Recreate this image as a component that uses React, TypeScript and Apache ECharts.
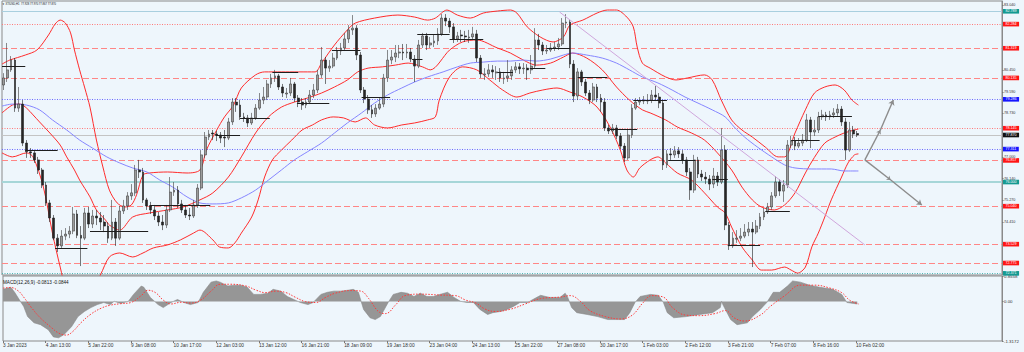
import React, { useEffect, useRef } from 'react';
import * as echarts from 'echarts';

// ---------- data ----------
const tickLabels = ['3 Jan 2023', '4 Jan 13:00', '5 Jan 22:00', '9 Jan 08:00', '10 Jan 17:00', '12 Jan 03:00', '13 Jan 12:00', '16 Jan 21:00', '18 Jan 09:00', '19 Jan 18:00', '23 Jan 04:00', '24 Jan 13:00', '25 Jan 22:00', '27 Jan 08:00', '30 Jan 17:00', '1 Feb 03:00', '2 Feb 12:00', '3 Feb 21:00', '7 Feb 07:00', '8 Feb 16:00', '10 Feb 02:00'];
const barsPerTick = 33;
const barsPerCandle = 3;
const totalBars = 773;

// [open, close, low, high] – one candle per 3 hourly bars
const candles = [
  [79.86,80.14,79.66,80.33],[80.14,80.46,79.98,81.53],[80.46,80.85,80.38,81.01],[80.85,78.94,78.79,80.93],[78.94,79.10,78.79,79.78],
  [79.10,77.55,77.43,79.26],[77.55,77.20,76.96,77.67],[77.20,77.16,76.96,77.35],[77.16,76.88,76.76,77.27],[76.88,76.48,76.32,77.00],
  [76.48,75.88,75.76,76.56],[75.88,75.17,75.05,76.00],[75.17,74.57,74.41,75.29],[74.57,73.77,73.69,74.69],[73.77,73.46,73.22,73.93],
  [73.46,73.85,73.38,74.09],[73.85,73.93,73.69,74.17],[73.93,74.05,73.77,74.25],[74.05,74.73,73.93,75.01],[74.73,73.88,73.77,74.89],
  [73.88,73.77,72.66,74.25],[73.77,74.77,73.69,74.97],[74.77,74.33,74.17,75.01],[74.33,74.65,74.17,74.89],[74.65,74.57,74.29,74.89],
  [74.57,74.41,74.09,74.81],[74.41,74.25,74.01,74.69],[74.25,73.77,73.58,74.41],[73.77,74.41,73.69,75.29],[74.41,73.77,73.46,74.57],
  [73.77,74.85,73.69,75.05],[74.85,75.05,74.73,75.29],[75.05,75.45,74.89,75.60],[75.45,75.57,75.29,75.92],[75.57,76.48,75.45,76.68],
  [76.48,76.40,76.16,76.88],[76.40,75.29,75.17,76.56],[75.29,75.05,74.89,75.37],[75.05,74.89,74.73,75.21],[74.89,74.65,74.49,75.09],
  [74.65,74.41,74.25,74.81],[74.41,74.29,74.09,74.69],[74.29,74.89,74.17,75.09],[74.89,75.60,74.81,76.20],[75.60,75.68,75.45,76.00],
  [75.68,75.13,74.97,75.84],[75.13,74.89,74.77,75.29],[74.89,74.69,74.57,75.09],[74.69,74.65,74.49,74.97],[74.65,75.09,74.57,75.29],
  [75.09,75.76,74.97,75.92],[75.76,77.08,75.68,77.27],[77.08,77.79,76.96,77.99],[77.79,77.91,77.67,78.07],[77.95,77.91,77.67,78.07],
  [77.91,77.87,77.63,78.03],[77.87,77.75,77.55,77.99],[77.79,77.75,77.39,78.07],[77.75,78.39,77.67,78.55],[78.39,79.18,78.27,79.34],
  [79.18,79.06,78.79,79.34],[79.06,78.59,78.47,79.26],[78.59,78.55,78.39,78.75],[78.55,78.35,78.19,78.67],[78.35,78.55,78.27,78.75],
  [78.55,78.94,78.47,79.10],[78.94,79.26,78.87,79.54],[79.26,79.38,79.10,79.78],[79.38,79.90,79.26,80.06],[79.90,80.14,79.74,80.30],
  [80.14,80.22,79.98,80.46],[80.22,79.78,79.66,80.30],[79.78,79.54,79.38,79.90],[79.50,79.54,79.34,79.74],[79.54,79.90,79.42,80.14],
  [79.90,79.34,79.18,79.98],[79.34,79.18,78.98,79.46],[79.18,79.06,78.87,79.34],[79.06,79.18,78.94,79.34],[79.18,79.46,79.10,79.66],
  [79.46,79.66,79.34,79.90],[79.66,80.26,79.54,80.46],[80.26,80.85,80.14,81.37],[80.85,80.53,79.90,80.97],[80.53,80.61,80.38,80.85],
  [80.61,80.93,80.53,81.13],[80.93,81.21,80.85,81.37],[81.21,81.33,81.05,81.53],[81.33,81.69,81.21,81.93],[81.69,82.05,81.53,82.24],
  [82.05,82.12,81.85,82.64],[82.12,81.05,80.85,82.24],[81.05,79.66,79.54,81.17],[79.66,79.30,79.14,79.78],[79.30,78.87,78.71,79.46],
  [78.87,78.71,78.55,79.06],[78.71,78.94,78.59,79.10],[78.94,79.10,78.87,79.34],[79.10,80.14,78.98,80.30],[80.14,80.85,79.98,81.25],
  [80.85,80.97,80.69,81.25],[80.97,81.13,80.77,81.45],[81.13,81.17,80.93,81.45],[81.17,81.13,80.85,81.49],[81.13,81.17,80.93,81.49],
  [81.17,80.89,80.77,81.33],[80.89,80.61,79.98,81.05],[80.61,81.45,80.53,81.65],[81.45,81.81,81.33,81.93],[81.81,81.45,81.25,81.93],
  [81.45,81.53,81.33,81.77],[81.53,81.61,81.37,81.85],[81.61,81.89,81.45,82.12],[81.89,82.52,81.81,82.68],[82.52,82.40,82.20,82.68],
  [82.40,82.17,81.93,82.52],[82.17,81.69,81.53,82.32],[81.69,81.81,81.57,81.97],[81.85,81.81,81.57,82.05],[81.81,81.77,81.57,82.01],
  [81.73,81.77,81.53,82.05],[81.77,81.89,81.65,82.17],[81.89,80.93,80.77,82.05],[80.93,80.30,80.14,81.05],[80.26,80.30,80.06,80.53],
  [80.30,80.46,80.18,80.69],[80.46,80.38,80.14,80.65],[80.34,80.38,80.06,80.61],[80.38,80.14,79.98,80.53],[80.10,80.14,79.90,80.38],
  [80.14,80.22,79.98,80.85],[80.22,80.46,80.06,80.61],[80.46,80.58,80.34,80.77],[80.58,80.50,80.30,80.73],[80.50,80.53,80.30,80.73],
  [80.53,80.46,80.06,80.69],[80.46,80.61,80.30,81.05],[80.61,81.65,80.53,82.12],[81.65,81.45,81.25,81.89],[81.45,81.21,81.05,81.57],
  [81.21,81.25,81.09,81.45],[81.25,81.33,81.17,81.53],[81.33,81.37,81.21,81.57],[81.37,81.49,81.25,81.73],[81.49,82.32,81.41,82.52],
  [82.32,82.36,82.12,82.68],[82.36,80.69,80.53,82.44],[80.69,79.42,79.18,80.85],[79.42,80.38,79.26,80.53],[80.38,79.98,79.82,80.46],
  [79.98,79.54,79.42,80.10],[79.54,79.26,79.10,79.66],[79.26,79.78,79.18,79.94],[79.78,79.34,79.18,79.90],[79.34,79.18,78.79,79.50],
  [79.18,78.15,78.03,79.34],[78.15,78.03,77.91,78.27],[78.03,78.15,77.91,78.31],[78.15,77.83,77.71,78.27],[77.83,77.43,77.31,77.95],
  [77.43,76.96,76.80,77.55],[76.96,77.87,76.88,78.07],[77.87,78.94,77.75,79.10],[78.94,79.18,78.87,79.34],[79.18,79.22,79.06,79.38],
  [79.22,79.26,79.10,79.42],[79.22,79.26,79.10,79.50],[79.26,79.46,79.14,79.66],[79.46,79.38,79.22,79.82],[79.38,79.14,78.94,79.54],
  [79.14,76.68,76.48,79.26],[76.68,77.12,76.56,77.27],[77.12,77.08,76.88,77.35],[77.08,77.24,76.96,77.43],[77.24,77.12,76.96,77.39],
  [77.12,76.88,76.72,77.27],[76.88,76.40,76.24,77.00],[76.40,75.68,75.29,76.56],[75.68,76.88,75.57,77.08],[76.88,76.32,76.16,77.00],
  [76.32,76.20,76.04,76.48],[76.20,76.12,75.92,76.40],[76.12,75.92,75.68,76.28],[75.92,76.24,75.76,76.56],[76.24,76.00,75.84,76.40],
  [76.00,77.27,75.92,78.15],[77.27,74.29,74.09,77.47],[74.29,73.46,73.30,74.41],[73.46,73.77,73.38,74.01],[73.73,73.77,73.58,74.09],
  [73.77,73.85,73.65,74.17],[73.85,74.01,73.77,74.33],[74.01,74.13,73.85,74.41],[74.13,74.01,72.62,74.41],[74.01,74.25,73.93,74.49],
  [74.25,74.61,74.13,74.77],[74.61,74.81,74.49,74.97],[74.81,75.01,74.73,75.17],[75.01,75.45,74.89,75.60],[75.45,76.00,75.37,76.24],
  [76.00,75.64,75.45,76.12],[75.64,75.88,75.21,76.08],[75.88,77.47,75.76,77.67],[77.47,77.63,77.35,77.83],[77.63,77.43,77.27,77.79],
  [77.43,77.55,77.35,77.75],[77.55,77.67,77.43,77.91],[77.67,78.47,77.59,78.71],[78.47,77.99,77.35,78.59],[77.99,78.07,77.83,78.47],
  [78.07,78.59,77.95,78.79],[78.59,78.67,78.47,78.87],[78.67,78.59,78.43,78.79],[78.59,78.67,78.47,78.83],[78.67,78.75,78.55,78.94],
  [78.75,78.90,78.63,79.10],[78.90,78.39,78.23,79.02],[78.39,77.27,76.88,78.55],[77.27,78.07,77.20,78.39],[78.07,77.91,77.75,78.23],
  [77.93,77.87,77.79,78.03],
];

// [bar, value]
const upperBand = [[0,80.69],[6,80.85],[18,81.05],[27,81.25],[36,81.85],[41,82.28],[45,82.44],[49,82.32],[53,81.93],[56,81.25],[60,80.46],[64,79.74],[68,78.98],[73,77.67],[78,76.60],[83,75.68],[89,75.17],[95,75.01],[100,75.09],[104,75.49],[109,76.28],[114,76.36],[128,76.40],[143,76.36],[153,76.48],[158,77.27],[166,78.07],[172,78.59],[179,79.06],[185,79.74],[196,80.26],[203,80.38],[216,80.38],[242,80.38],[247,80.73],[257,81.45],[267,82.05],[273,82.32],[288,82.52],[306,82.64],[319,82.56],[329,82.44],[335,82.52],[344,82.84],[352,82.64],[362,82.52],[372,82.72],[383,82.80],[393,82.84],[398,82.72],[406,82.17],[416,81.77],[426,81.57],[434,81.77],[439,82.24],[449,82.44],[460,82.72],[468,82.84],[475,82.84],[483,82.56],[488,82.17],[491,81.37],[495,80.73],[501,80.53],[513,80.18],[521,80.06],[530,80.14],[543,80.26],[549,80.06],[556,79.26],[564,78.47],[572,78.07],[580,77.79],[590,77.39],[600,77.00],[605,77.00],[613,77.95],[621,78.87],[628,79.54],[636,79.78],[644,79.86],[651,79.66],[657,79.26],[662,79.06]];
const middleBand = [[0,78.75],[8,79.06],[14,79.10],[19,78.94],[24,78.67],[29,78.39],[37,77.95],[45,77.47],[50,77.00],[56,76.48],[60,76.08],[68,75.41],[73,74.89],[80,74.49],[83,74.29],[91,74.09],[101,74.61],[114,74.77],[128,74.89],[140,75.01],[153,75.29],[163,75.57],[175,76.20],[185,77.00],[196,77.95],[206,78.59],[216,78.98],[226,79.18],[236,79.34],[247,79.54],[257,79.78],[267,80.06],[275,80.38],[283,80.53],[294,80.58],[304,80.65],[314,80.73],[325,80.58],[331,80.46],[346,81.25],[356,81.57],[367,81.65],[383,81.33],[393,81.13],[403,80.85],[413,80.65],[424,80.73],[434,80.97],[441,81.13],[452,80.93],[464,80.46],[475,79.78],[485,79.26],[495,78.87],[501,78.75],[513,78.47],[522,78.19],[533,77.95],[543,77.67],[553,77.16],[564,76.48],[572,75.80],[580,75.29],[587,75.01],[597,74.89],[605,75.09],[613,75.57],[621,76.36],[628,76.98],[636,77.55],[644,77.79],[651,77.95],[662,78.11]];
const lowerBand = [[0,77.16],[8,77.00],[19,77.16],[24,77.00],[32,75.80],[39,73.97],[45,72.62],[50,71.71],[59,71.31],[68,71.63],[76,72.30],[83,73.02],[91,73.18],[101,73.02],[109,73.18],[117,73.38],[128,73.50],[138,73.70],[148,73.97],[153,74.09],[163,73.70],[168,73.42],[175,73.38],[180,73.58],[185,73.97],[193,74.61],[198,75.29],[203,76.20],[209,76.88],[216,77.27],[224,77.67],[232,78.07],[240,78.27],[247,78.47],[256,78.59],[264,78.55],[273,78.39],[281,78.55],[288,78.27],[298,78.15],[309,78.27],[319,78.35],[329,78.47],[335,78.59],[338,79.26],[346,80.18],[356,80.58],[367,80.46],[377,80.06],[387,79.66],[398,79.38],[408,79.54],[418,79.66],[429,79.74],[439,79.58],[449,79.38],[460,78.98],[470,78.19],[478,77.27],[483,76.48],[488,76.20],[493,76.56],[501,76.88],[507,77.00],[513,76.76],[522,76.36],[533,76.08],[543,75.57],[553,75.01],[559,74.77],[564,74.21],[572,73.42],[580,72.90],[587,72.50],[595,72.50],[605,72.62],[610,72.50],[615,72.38],[621,72.62],[626,73.42],[631,73.97],[636,74.61],[641,75.29],[649,76.20],[654,76.76],[659,77.08],[662,77.12]];
const maLine = [[0,79.02],[8,79.10],[19,79.06],[29,78.87],[39,78.47],[50,78.07],[60,77.67],[70,77.35],[81,77.00],[91,76.76],[101,76.56],[112,76.40],[122,76.08],[132,75.80],[143,75.41],[153,75.17],[163,75.13],[175,75.17],[185,75.37],[196,75.68],[206,76.08],[216,76.48],[226,76.88],[236,77.20],[247,77.55],[257,77.95],[267,78.35],[278,78.75],[288,79.14],[298,79.46],[309,79.74],[319,79.98],[329,80.18],[341,80.38],[352,80.58],[362,80.73],[372,80.77],[383,80.81],[393,80.81],[403,80.85],[413,80.81],[424,80.89],[434,81.05],[441,81.13],[452,81.05],[464,80.93],[475,80.73],[485,80.46],[495,80.18],[507,79.94],[518,79.66],[528,79.38],[538,79.14],[549,78.87],[559,78.59],[566,78.19],[574,77.79],[584,77.39],[595,77.00],[605,76.68],[613,76.56],[626,76.52],[641,76.52],[651,76.44],[662,76.44]];

const macdHist = [[0,0.41],[6,0.48],[9,0.31],[14,-0.03],[16,-0.16],[19,-0.50],[24,-0.71],[29,-0.77],[35,-0.94],[39,-1.18],[43,-1.21],[47,-1.11],[53,-0.84],[58,-0.50],[63,-0.33],[68,-0.20],[73,-0.10],[78,-0.03],[83,-0.10],[86,0.01],[91,-0.06],[97,0.01],[101,0.24],[107,0.52],[109,0.48],[114,0.14],[120,-0.10],[124,-0.20],[130,-0.03],[135,0.07],[140,-0.03],[145,-0.10],[151,-0.03],[155,0.31],[161,0.65],[165,0.69],[168,0.65],[174,0.52],[179,0.55],[184,0.55],[189,0.48],[194,0.24],[199,0.24],[205,0.28],[209,0.41],[215,0.35],[220,0.17],[225,0.07],[230,-0.03],[236,-0.10],[240,-0.03],[246,0.24],[251,0.31],[256,0.35],[261,0.35],[267,0.38],[271,0.41],[275,0.31],[279,-0.26],[284,-0.54],[288,-0.60],[292,-0.50],[298,-0.03],[302,0.24],[308,0.31],[313,0.28],[318,0.17],[323,0.28],[328,0.17],[333,0.17],[338,0.24],[344,0.31],[349,0.14],[354,0.01],[359,-0.03],[364,-0.03],[369,-0.26],[375,-0.43],[379,-0.37],[385,-0.33],[390,-0.26],[395,-0.16],[400,-0.03],[406,-0.03],[410,0.07],[416,0.21],[423,0.14],[431,0.14],[435,0.28],[437,0.14],[440,-0.20],[444,-0.37],[452,-0.43],[460,-0.50],[468,-0.60],[475,-0.60],[481,-0.60],[485,-0.37],[489,-0.03],[493,0.17],[501,0.24],[507,0.21],[511,-0.03],[514,-0.37],[519,-0.54],[529,-0.50],[539,-0.43],[549,-0.37],[555,-0.20],[556,0.01],[557,-0.10],[563,-0.60],[568,-0.77],[576,-0.71],[580,-0.50],[586,-0.26],[591,-0.03],[596,0.31],[601,0.31],[607,0.52],[611,0.69],[617,0.65],[624,0.55],[632,0.48],[642,0.41],[649,0.24],[653,-0.03],[658,-0.06],[661,-0.08]];
const macdSignal = [[0,0.45],[6,0.47],[12,0.35],[16,0.15],[22,-0.2],[29,-0.55],[37,-0.85],[43,-1.05],[49,-1.12],[54,-1.0],[60,-0.72],[68,-0.42],[76,-0.22],[83,-0.12],[91,-0.07],[99,-0.03],[107,0.2],[112,0.38],[118,0.3],[124,0.05],[130,-0.08],[138,-0.02],[145,-0.05],[153,0.05],[161,0.35],[168,0.58],[176,0.58],[188,0.52],[196,0.38],[203,0.3],[211,0.35],[219,0.3],[226,0.15],[234,0.0],[242,-0.03],[250,0.15],[257,0.28],[269,0.37],[277,0.35],[283,0.1],[291,-0.35],[296,-0.4],[304,-0.1],[311,0.2],[323,0.25],[338,0.22],[350,0.2],[358,0.05],[366,-0.05],[373,-0.25],[381,-0.33],[393,-0.25],[404,-0.08],[416,0.1],[431,0.15],[439,0.2],[447,0.0],[454,-0.3],[466,-0.5],[478,-0.58],[487,-0.45],[495,-0.05],[502,0.2],[511,0.15],[518,-0.2],[528,-0.45],[539,-0.47],[551,-0.4],[559,-0.3],[566,-0.55],[574,-0.65],[586,-0.45],[594,-0.15],[605,0.2],[617,0.55],[628,0.55],[640,0.45],[649,0.3],[655,0.05],[662,-0.08]];

const levelValues = [82.789, 82.284, 81.319, 80.135, 79.286, 78.145, 77.870, 77.311, 76.857, 76.000, 75.040, 73.529, 72.775, 72.371];
const levelKinds = ['teal', 'redDot', 'redDash', 'redDash', 'blueDot', 'redDot', 'price', 'blueDot', 'redDash', 'tealThick', 'redDash', 'redDash', 'redDash', 'tealDot'];
const priceTicks = [83.04, 80.45, 79.59, 78.73, 77.0, 76.14, 75.27, 74.41];
const macdTicks = [0.8558, 0, -1.3172];

// [startBar, endBar, price]
const pivotSegments = [[0,18,80.61],[18,43,77.27],[41,66,73.38],[68,113,74.05],[114,161,75.09],[165,184,77.87],[184,207,78.55],[209,229,80.38],[228,253,79.14],[255,277,81.25],[278,300,79.38],[317,325,80.89],[321,346,81.89],[346,372,81.69],[383,395,80.38],[408,420,80.53],[421,439,81.33],[445,468,80.18],[470,491,78.11],[488,514,79.26],[515,536,76.88],[549,561,76.12],[561,586,73.50],[590,609,74.85],[610,632,77.67],[631,657,78.63]];
const trendLine = [[431, 82.76], [667, 73.5]];
const arrowStart = [667, 76.88];
const arrowMids = [[679, 78.07], [687, 76.08]];
const arrowEnds = [[689, 79.26], [711, 75.09]];

const headerText = '▼ XTIUSD,H1  77.928 77.970 77.867 77.870';
const macdTitle = 'MACD(12,26,9) -0.0813 -0.0844';

// ---------- styling ----------
const FONT = '"Liberation Sans", Arial, "DejaVu Sans", sans-serif';
const BG = '#eef6fc';

const kindStyle: any = {
  teal: { line: { color: '#a9cfdf', width: 1, type: 'solid' }, badge: '#149a92' },
  redDot: { line: { color: '#ff7a7a', width: 1, type: [1, 1.5] }, badge: '#ff1515' },
  redDash: { line: { color: '#ff8686', width: 1, type: [6, 3] }, badge: '#ff1515' },
  blueDot: { line: { color: '#6a6aff', width: 1, type: [1, 1.5] }, badge: '#1515ff' },
  price: { line: { color: '#c4c4c4', width: 1, type: 'solid' }, badge: '#111111' },
  tealThick: { line: { color: '#a6d6d8', width: 2, type: 'solid' }, badge: '#149a92' },
  tealDot: { line: { color: '#4fb4b4', width: 1, type: [1, 1.5] }, badge: '#149a92' },
};

export default function App() {
  const ref = useRef<HTMLDivElement>(null);

  useEffect(() => {
    const chart = echarts.init(ref.current as HTMLDivElement, null, { renderer: 'svg' });

    const bandLine = (data: number[][], color: string) => ({
      type: 'line', xAxisIndex: 0, yAxisIndex: 0, data, symbol: 'none', showSymbol: false,
      smooth: 0.3, clip: true, silent: true, z: 3,
      lineStyle: { color, width: 1 },
    });

    const levelLines = levelValues.map((v, i) => {
      const s = kindStyle[levelKinds[i]];
      return {
        yAxis: v,
        lineStyle: s.line,
        label: {
          show: true, position: 'end', distance: 1, formatter: v.toFixed(3),
          backgroundColor: s.badge, color: '#ffffff', fontSize: 3.7, fontFamily: FONT,
          padding: [0.4, 2.4, 0.2, 2.4], lineHeight: 4,
        },
      };
    });

    const annotationLines: any[] = [];
    pivotSegments.forEach(([a, b, v]) => {
      annotationLines.push([
        { coord: [a, v], symbol: 'none', lineStyle: { color: '#1e1e1e', width: 1, type: 'solid' } },
        { coord: [b, v], symbol: 'none' },
      ]);
    });
    annotationLines.push([
      { coord: trendLine[0], symbol: 'none', lineStyle: { color: '#cfa6dc', width: 1, type: 'solid' } },
      { coord: trendLine[1], symbol: 'none' },
    ]);
    arrowEnds.forEach((end, i) => {
      const st = { color: '#8c8c8c', width: 1.4, type: 'solid' };
      annotationLines.push([
        { coord: arrowStart, symbol: 'none', lineStyle: st },
        { coord: arrowMids[i], symbol: 'arrow', symbolSize: 4 },
      ]);
      annotationLines.push([
        { coord: arrowMids[i], symbol: 'none', lineStyle: st },
        { coord: end, symbol: 'arrow', symbolSize: 5 },
      ]);
    });

    const tickBars = tickLabels.map((_, i) => i * barsPerTick);

    const option: any = {
      animation: false,
      backgroundColor: BG,
      textStyle: { fontFamily: FONT },
      grid: [
        { left: 2, top: 1, width: 1000, height: 274, show: true, backgroundColor: BG, borderColor: '#8a8a8a', borderWidth: 1 },
        { left: 2, top: 276, width: 1000, height: 65, show: true, backgroundColor: BG, borderColor: '#8a8a8a', borderWidth: 1 },
      ],
      xAxis: [
        {
          type: 'value', gridIndex: 0, min: 0, max: totalBars,
          axisLine: { show: false, onZero: false }, axisTick: { show: false }, axisLabel: { show: false }, splitLine: { show: false },
        },
        {
          type: 'value', gridIndex: 1, min: 0, max: totalBars, interval: barsPerTick, position: 'bottom',
          axisLine: { show: false, onZero: false }, splitLine: { show: false },
          axisTick: { show: true, length: 2, customValues: tickBars, lineStyle: { color: '#777' } },
          axisLabel: {
            show: true, fontSize: 4.8, color: '#333', fontFamily: FONT, align: 'left', margin: 2,
            showMaxLabel: false, hideOverlap: false,
            formatter: (val: number) => {
              const i = Math.round(val / barsPerTick);
              return Math.abs(val - i * barsPerTick) < 0.01 && i < tickLabels.length ? tickLabels[i] : '';
            },
          },
        },
      ],
      yAxis: [
        {
          type: 'value', gridIndex: 0, position: 'right', min: 72.304, max: 83.199,
          axisLine: { show: true, onZero: false, lineStyle: { color: '#8a8a8a' } },
          splitLine: { show: false },
          axisTick: { show: true, length: 1.5, customValues: priceTicks, lineStyle: { color: '#777' } },
          axisLabel: {
            show: true, customValues: priceTicks, fontSize: 3.7, color: '#333', fontFamily: FONT, margin: 2,
            formatter: (v: number) => v.toFixed(3),
          },
        },
        {
          type: 'value', gridIndex: 1, position: 'right', min: -1.3172, max: 0.8558,
          axisLine: { show: true, onZero: false, lineStyle: { color: '#8a8a8a' } },
          splitLine: { show: false },
          axisTick: { show: true, length: 1.5, customValues: macdTicks, lineStyle: { color: '#777' } },
          axisLabel: {
            show: true, customValues: macdTicks, fontSize: 4.4, color: '#333', fontFamily: FONT, margin: 2,
            formatter: (v: number) => (v === 0 ? '0.00' : v.toFixed(4)),
          },
        },
      ],
      series: [
        {
          type: 'candlestick', xAxisIndex: 0, yAxisIndex: 0, z: 4,
          data: candles.map((c, k) => [barsPerCandle * k + 1, c[0], c[1], c[2], c[3]]),
          encode: { x: 0, y: [1, 2, 3, 4] },
          barWidth: 2.3,
          itemStyle: { color: '#9c9c9c', color0: '#262626', borderColor: '#3e3e3e', borderColor0: '#202020', borderWidth: 0.6 },
          markLine: { silent: true, symbol: ['none', 'none'], animation: false, z: 2, data: levelLines },
        },
        bandLine(upperBand, '#ff2b2b'),
        bandLine(middleBand, '#ff2b2b'),
        bandLine(lowerBand, '#ff2b2b'),
        {
          ...bandLine(maLine, '#8585ff'),
          markLine: { silent: true, animation: false, label: { show: false }, data: annotationLines },
        },
        {
          type: 'line', xAxisIndex: 1, yAxisIndex: 1, data: macdHist, symbol: 'none', showSymbol: false, silent: true,
          lineStyle: { width: 0.6, color: '#8a8a8a' },
          areaStyle: { color: '#969696', opacity: 1 },
        },
        {
          type: 'line', xAxisIndex: 1, yAxisIndex: 1, data: macdSignal, symbol: 'none', showSymbol: false, silent: true,
          smooth: 0.4, lineStyle: { width: 1, color: '#ff3a3a', type: [1.5, 1.5] }, z: 3,
        },
      ],
      graphic: [
        { type: 'text', left: 2, top: 3, z: 10, style: { text: headerText, fontSize: 2.7, fill: '#111', fontFamily: FONT } },
        { type: 'text', left: 3, top: 279.5, z: 10, style: { text: macdTitle, fontSize: 4.6, fill: '#111', fontFamily: FONT } },
      ],
    };

    chart.setOption(option);
    return () => chart.dispose();
  }, []);

  return (
    <div
      ref={ref}
      style={{ position: 'fixed', left: 0, top: 0, width: 1024, height: 352, background: BG }}
    />
  );
}
